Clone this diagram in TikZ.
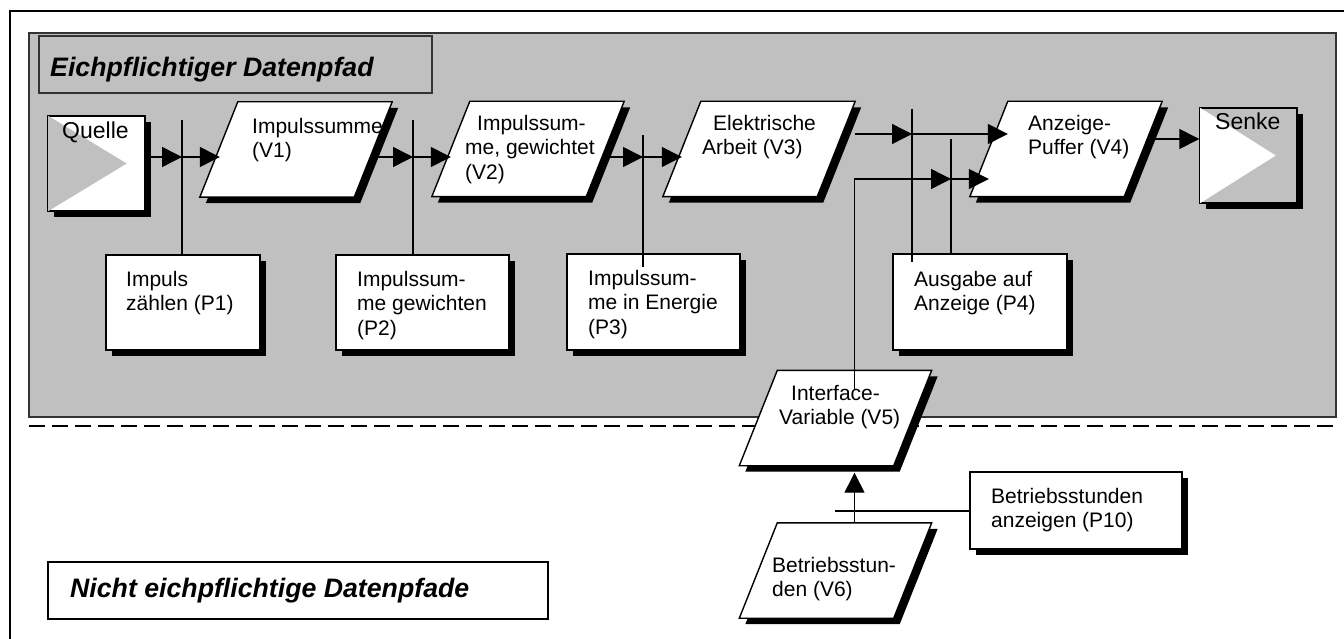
\documentclass[tikz,border=0pt]{standalone}
\usepackage{fontspec}
\setmainfont{Liberation Sans}
\usetikzlibrary{arrows.meta,shadows,calc}
\definecolor{bggray}{RGB}{192,192,192}
\tikzset{
  shad/.style={drop shadow={fill=black,opacity=1,shadow xshift=6pt,shadow yshift=-6pt}},
  pbox/.style={draw=black,line width=1.4pt,fill=white,shad,inner sep=0pt},
  paranode/.style={minimum width=154pt,minimum height=95pt,inner sep=0pt},
  txt/.style={anchor=north west,inner sep=0pt,align=left,font=\fontsize{21}{24.5}\selectfont},
  bigtxt/.style={anchor=north west,inner sep=0pt,font=\fontsize{23}{27}\selectfont},
  headtxt/.style={anchor=north west,inner sep=0pt,font=\fontsize{26.7}{30}\selectfont\bfseries\itshape},
  ln/.style={line width=1.4pt},
  arr/.style={line width=1.4pt,-{Triangle[length=20pt,width=20pt]}}
}
% parallelogram drawn on an invisible named node
\newcommand\mypara[1]{%
  \fill[black] ([shift={(25pt,-6pt)}]#1.north west) -- ([shift={(25pt,-6pt)}]#1.north east)
     -- ([shift={(-13pt,-6pt)}]#1.south east) -- ([shift={(-13pt,-6pt)}]#1.south west) -- cycle;
  \draw[line width=1.4pt,fill=white] ([xshift=19pt]#1.north west) -- ([xshift=19pt]#1.north east)
     -- ([xshift=-19pt]#1.south east) -- ([xshift=-19pt]#1.south west) -- cycle;}
\begin{document}
\begin{tikzpicture}[x=1pt,y=-1pt]
\useasboundingbox (0,0) rectangle (1344,639);
% outer frame
\draw[line width=2pt] (10,660) -- (10,11) -- (1360,11);
% gray region
\node[draw=black!80,line width=1.6pt,fill=bggray,minimum width=1307pt,minimum height=384pt,inner sep=0pt] (G) at (682.5,225) {};
% dashed separator
\draw[line width=2pt,dash pattern=on 16pt off 7pt] (29,426) -- (1336,426);
% heading boxes
\node[draw=black!80,line width=1.2pt,minimum width=393pt,minimum height=57pt,inner sep=0pt] (T1) at (235.5,64.5) {};
\node[headtxt] (T1t) at (50,57) {Eichpflichtiger Datenpfad};
\node[draw=black,line width=1.6pt,fill=white,minimum width=500pt,minimum height=57pt,inner sep=0pt] (T2) at (298,590.5) {};
\node[headtxt] (T2t) at (70,577.5) {Nicht eichpflichtige Datenpfade};

% source and sink
\node[pbox,minimum width=97pt,minimum height=95pt] (Q) at (96.5,163.5) {};
\fill[bggray] (Q.north west) -- ([xshift=-19pt]Q.east) -- (Q.south west) -- cycle;
\draw[line width=1.4pt] (Q.north west) rectangle (Q.south east);
\node[bigtxt] (Qt) at (62,122) {Quelle};
\node[pbox,fill=bggray,minimum width=97pt,minimum height=95pt] (S) at (1248.5,155.5) {};
\fill[white] (S.north west) -- ([xshift=-22pt]S.east) -- (S.south west) -- cycle;
\draw[line width=1.4pt] (S.north west) rectangle (S.south east);
\node[bigtxt] (St) at (1215,113) {Senke};

% variables
\node[paranode] (V1) at (296,149.5) {};
\node[paranode] (V2) at (528,149) {};
\node[paranode] (V3) at (759,149) {};
\node[paranode] (V4) at (1066,149) {};
\node[paranode] (V5) at (835.5,418) {};
\node[paranode] (V6) at (835.5,570.5) {};
\mypara{V1}\mypara{V2}\mypara{V3}\mypara{V4}\mypara{V5}\mypara{V6}
\node[txt] (V1t) at (252,118) {Impulssumme\\(V1)};
\node[txt] (V2t) at (465,115) {\hspace*{12pt}Impulssum-\\me, gewichtet\\(V2)};
\node[txt] (V3t) at (702,115) {\hspace*{11pt}Elektrische\\Arbeit (V3)};
\node[txt] (V4t) at (1028,115) {Anzeige-\\Puffer (V4)};
\node[txt] (V5t) at (779,385) {\hspace*{12pt}Interface-\\Variable (V5)};
\node[txt] (V6t) at (772,557) {Betriebsstun-\\den (V6)};

% processes
\node[pbox,minimum width=154pt,minimum height=95pt] (P1) at (183,302.5) {};
\node[txt] (P1t) at (126,271) {Impuls\\zählen (P1)};
\node[pbox,minimum width=173pt,minimum height=95pt] (P2) at (422.5,302.5) {};
\node[txt] (P2t) at (357,271) {Impulssum-\\me gewichten\\(P2)};
\node[pbox,minimum width=173pt,minimum height=96pt] (P3) at (653.5,302) {};
\node[txt] (P3t) at (588,270) {Impulssum-\\me in Energie\\(P3)};
\node[pbox,minimum width=174pt,minimum height=96pt] (P4) at (980,302) {};
\node[txt] (P4t) at (914,271) {Ausgabe auf\\Anzeige (P4)};
\node[pbox,minimum width=212pt,minimum height=77pt] (P10) at (1076,510.5) {};
\node[txt] (P10t) at (991,488) {Betriebsstunden\\anzeigen (P10)};

% junctions
\coordinate (j1) at (182,157); \coordinate (j1t) at (182,120);
\coordinate (j2) at (413,157); \coordinate (j2t) at (413,120);
\coordinate (j3) at (643,157); \coordinate (j3t) at (643,135);
\coordinate (j4) at (912,134); \coordinate (j4t) at (912,109);
\coordinate (j5) at (951,179); \coordinate (j5t) at (951,139);
\coordinate (ys) at (1180,139);
\coordinate (v5top) at ([xshift=19pt]V5.north);
\coordinate (v6top) at ([xshift=19pt]V6.north);
\coordinate (v5in) at ([yshift=-19pt]v5top);
\coordinate (v5b) at (v6top |- V5.south);
\coordinate (p10l) at (835,511);

% connectors
\draw[arr] (j1 -| Q.east) -- (j1);
\draw[arr] (j1) -- ([xshift=1pt]j1 -| V1.west);
\draw[ln] (j1t) -- (j1t |- P1.north);

\draw[arr] (j2 -| V1.east) -- (j2);
\draw[arr] (j2) -- (j2 -| V2.west);
\draw[ln] (j2t) -- (j2t |- P2.north);

\draw[arr] (j3 -| V2.east) -- (j3);
\draw[arr] (j3) -- (j3 -| V3.west);
\draw[ln] (j3t) -- ([yshift=-14pt]j3t |- P3.north);

\draw[arr] ([xshift=19pt]j4 -| V3.east) -- (j4);
\draw[arr] (j4) -- ([xshift=19pt]j4 -| V4.west);
\draw[ln] (j4t) -- ([yshift=-9pt]j4t |- P4.north);

\draw[arr] (v5in) |- (j5);
\draw[arr] (j5) -- (j5 -| V4.west);
\draw[ln] (j5t) -- (j5t |- P4.north);

\draw[arr] ([xshift=6pt]ys -| V4.east) -- (ys -| S.west);

\draw[arr] (v6top) -- ([yshift=-7pt]v5b);
\draw[ln] (p10l) -- (p10l -| P10.west);
\end{tikzpicture}
\end{document}
